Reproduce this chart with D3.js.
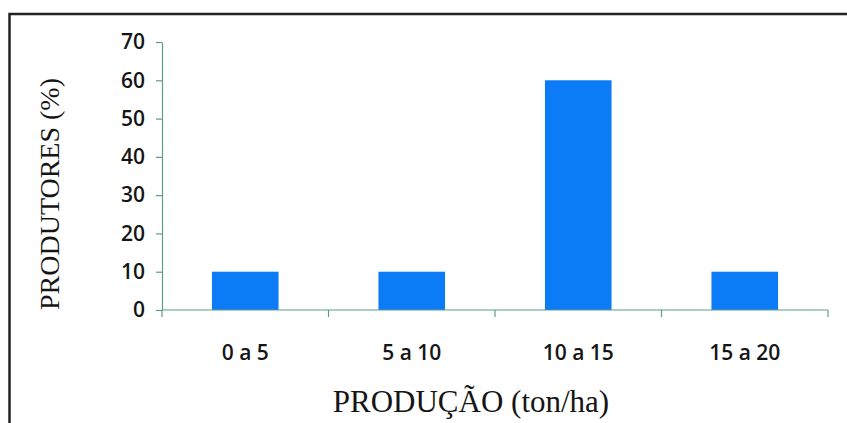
<!DOCTYPE html>
<html>
<head>
<meta charset="utf-8">
<script src="https://cdn.jsdelivr.net/npm/d3@7"></script>
<style>
  html, body { margin: 0; padding: 0; background: #ffffff; }
  svg { display: block; }
</style>
</head>
<body>
<div id="chart"></div>
<script>
// ---- data ----
const categories = ["0 a 5", "5 a 10", "10 a 15", "15 a 20"];
const values = [10, 10, 60, 10];
const yTicks = [0, 10, 20, 30, 40, 50, 60, 70];
const xTitle = "PRODUÇÃO (ton/ha)";
const yTitle = "PRODUTORES (%)";

const W = 847, H = 423;
const plot = { left: 162, right: 828, top: 42, bottom: 310 };
const axisColor = "#5f9c88";
const barColor = "#0b7cf5";
const textColor = "#151515";

const svg = d3.select("#chart").append("svg")
  .attr("width", W).attr("height", H);

svg.append("rect").attr("width", W).attr("height", H).attr("fill", "#fff");

// frame (left and top borders)
svg.append("path")
  .attr("d", `M9.5,${H} L9.5,14 L${W},14`)
  .attr("fill", "none")
  .attr("stroke", "#222")
  .attr("stroke-width", 2.5);

const x = d3.scaleBand()
  .domain(categories)
  .range([plot.left, plot.right])
  .paddingInner(0.6)
  .paddingOuter(0.3);

const y = d3.scaleLinear()
  .domain([0, 70])
  .range([plot.bottom, plot.top]);

// bars
svg.append("g").selectAll("rect")
  .data(values)
  .join("rect")
  .attr("x", (d, i) => x(categories[i]))
  .attr("y", d => y(d))
  .attr("width", x.bandwidth())
  .attr("height", d => y(0) - y(d))
  .attr("fill", barColor);

// y axis
const yAxis = svg.append("g")
  .attr("transform", `translate(${plot.left},0)`)
  .call(d3.axisLeft(y).tickValues(yTicks).tickSize(6).tickPadding(11).tickSizeOuter(0));
yAxis.select(".domain").attr("stroke", axisColor).attr("stroke-width", 1.2);
yAxis.selectAll(".tick line").attr("stroke", axisColor).attr("stroke-width", 1.2);
yAxis.selectAll(".tick text")
  .attr("fill", textColor)
  .style("font-family", "'Open Sans', sans-serif")
  .style("font-weight", "600")
  .style("font-size", "21px");

// x axis: ticks at category boundaries
const step = x.step();
const boundaries = d3.range(categories.length + 1).map(i => plot.left + i * step);
const xAxisG = svg.append("g");
xAxisG.append("line")
  .attr("x1", plot.left).attr("x2", plot.right)
  .attr("y1", plot.bottom).attr("y2", plot.bottom)
  .attr("stroke", axisColor).attr("stroke-width", 1.2);
xAxisG.selectAll("line.tk")
  .data(boundaries)
  .join("line")
  .attr("class", "tk")
  .attr("x1", d => d).attr("x2", d => d)
  .attr("y1", plot.bottom).attr("y2", plot.bottom + 7)
  .attr("stroke", axisColor).attr("stroke-width", 1.2);
xAxisG.selectAll("text")
  .data(categories)
  .join("text")
  .attr("x", d => x(d) + x.bandwidth() / 2)
  .attr("y", 360)
  .attr("text-anchor", "middle")
  .attr("fill", textColor)
  .style("font-family", "'Open Sans', sans-serif")
  .style("font-weight", "600")
  .style("font-size", "21px")
  .text(d => d);

// axis titles
svg.append("text")
  .attr("x", 471)
  .attr("y", 412)
  .attr("text-anchor", "middle")
  .attr("fill", textColor)
  .style("font-family", "'Liberation Serif', 'Times New Roman', serif")
  .style("font-size", "31px")
  .text(xTitle);

svg.append("text")
  .attr("transform", "translate(59,194) rotate(-90)")
  .attr("text-anchor", "middle")
  .attr("fill", textColor)
  .style("font-family", "'Liberation Serif', 'Times New Roman', serif")
  .style("font-size", "28px")
  .text(yTitle);
</script>
</body>
</html>
